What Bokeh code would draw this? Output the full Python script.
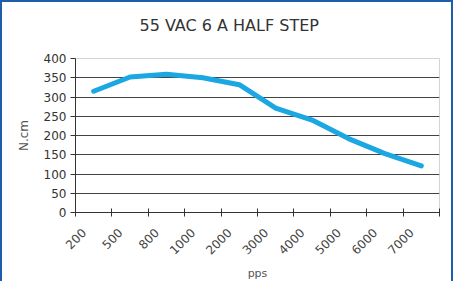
from bokeh.plotting import figure
from bokeh.models import FixedTicker, Range1d, Title
from bokeh.embed import file_html
from bokeh.resources import INLINE
import math

categories = ["200", "500", "800", "1000", "2000", "3000", "4000", "5000", "6000", "7000"]
torque = [315, 352, 359, 350, 332, 271, 240, 192, 153, 121]
y_ticks = [0, 50, 100, 150, 200, 250, 300, 350, 400]
title_text = "55 VAC 6 A HALF STEP"

xs = [i + 0.5 for i in range(len(categories))]
label_pos = [x - 0.27 for x in xs]

FONT = "DejaVu Sans"

p = figure(width=453, height=281, output_backend="svg", toolbar_location=None,
           x_range=Range1d(0, len(categories)), y_range=Range1d(0, 400),
           min_border_left=73, min_border_right=16, min_border_top=56, min_border_bottom=70)

p.styles = {"border-left": "2px solid #1f5ea8", "border-top": "2px solid #1f5ea8",
            "border-right": "2px solid #1f5ea8"}

p.title.text = title_text
p.title.align = "left"
p.title.offset = 64
p.title.standoff = 0
p.title.text_font = FONT
p.title.text_font_size = "16px"
p.title.text_font_style = "normal"
p.title.text_color = "#333333"

spacer = Title(text=" ", text_font_size="1px", standoff=21, text_color="white")
p.add_layout(spacer, "above")

p.line(xs, torque, line_color="#1aa7e2", line_width=5, line_join="round", line_cap="round")

p.outline_line_color = "#d4d4d4"
p.outline_line_width = 1

# y axis
p.yaxis.ticker = FixedTicker(ticks=y_ticks)
p.yaxis.axis_label = "N.cm"
p.yaxis.axis_label_text_font = FONT
p.yaxis.axis_label_text_font_size = "12px"
p.yaxis.axis_label_text_font_style = "normal"
p.yaxis.axis_label_text_color = "#555555"
p.yaxis.axis_label_standoff = 10
p.yaxis.major_label_text_font = FONT
p.yaxis.major_label_text_font_size = "12px"
p.yaxis.major_label_text_color = "#333333"
p.yaxis.major_tick_out = 5
p.yaxis.major_tick_in = 0
p.yaxis.minor_tick_line_color = None
p.yaxis.axis_line_color = "#333333"
p.yaxis.major_tick_line_color = "#333333"
p.yaxis.major_label_standoff = 4

# x axis: labels near category centres, ticks between categories
p.xaxis.ticker = FixedTicker(ticks=label_pos, minor_ticks=list(range(len(categories) + 1)))
p.xaxis.major_label_overrides = {x: c for x, c in zip(label_pos, categories)}
p.xaxis.major_label_orientation = math.pi / 4
p.xaxis.major_tick_line_color = None
p.xaxis.minor_tick_in = 4
p.xaxis.minor_tick_out = 4
p.xaxis.minor_tick_line_color = "#333333"
p.xaxis.minor_tick_line_width = 1
p.xaxis.axis_line_color = "#333333"
p.xaxis.major_label_text_font = FONT
p.xaxis.major_label_text_font_size = "12px"
p.xaxis.major_label_text_color = "#444444"
p.xaxis.major_label_standoff = 12
p.xaxis.axis_label = "pps"
p.xaxis.axis_label_text_font = FONT
p.xaxis.axis_label_text_font_size = "11px"
p.xaxis.axis_label_text_font_style = "normal"
p.xaxis.axis_label_text_color = "#555555"
p.xaxis.axis_label_standoff = 6

p.xgrid.visible = False
p.ygrid.ticker = FixedTicker(ticks=[50, 100, 150, 200, 250, 300, 350])
p.ygrid.grid_line_color = "#444444"
p.ygrid.grid_line_width = 1

open("out.html", "w").write(file_html(p, INLINE))
